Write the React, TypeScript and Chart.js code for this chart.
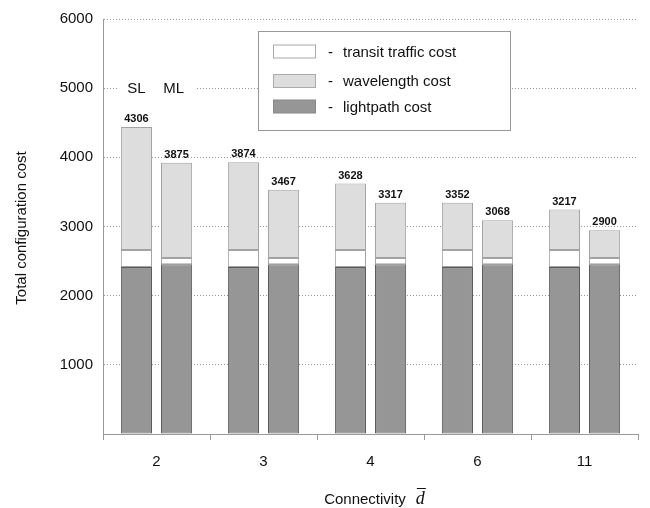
import React, { useEffect, useRef } from 'react';
import { Chart, registerables } from 'chart.js';

Chart.register(...registerables);

const categories = ['2', '3', '4', '6', '11'];
const lightpathSL = [2415, 2415, 2415, 2415, 2415];
const transitSL = [245, 245, 245, 245, 245];
const wavelengthSL = [1780, 1270, 960, 685, 585];
const lightpathML = [2455, 2455, 2455, 2455, 2455];
const transitML = [90, 90, 90, 90, 90];
const wavelengthML = [1375, 985, 800, 545, 400];
const totalLabelsSL = [4306, 3874, 3628, 3352, 3217];
const totalLabelsML = [3875, 3467, 3317, 3068, 2900];
const legendLabels = ['transit traffic cost', 'wavelength cost', 'lightpath cost'];
const stackLabels = ['SL', 'ML'];
const yTitle = 'Total configuration cost';
const xTitle = 'Connectivity';

const FONT = "'Liberation Sans', Arial, Helvetica, sans-serif";
const DARK = '#969696';
const DARK_B = '#5a5a5a';
const LIGHT = '#dddddd';
const LIGHT_B = '#a3a3a3';
const WHITE = '#ffffff';
const WHITE_B = '#a3a3a3';

const decorPlugin = {
  id: 'decor',
  beforeDatasetsDraw(chart: any) {
    const ctx = chart.ctx;
    const y = chart.scales.y;
    const yy = y.getPixelForValue(5000);
    const m0 = chart.getDatasetMeta(0).data[0];
    const m3 = chart.getDatasetMeta(3).data[0];
    ctx.save();
    ctx.fillStyle = '#fff';
    ctx.fillRect(m0.x - 19, yy - 8, m3.x - m0.x + 38, 16);
    ctx.fillStyle = '#111';
    ctx.font = `15px ${FONT}`;
    ctx.textAlign = 'center';
    ctx.textBaseline = 'middle';
    ctx.fillText(stackLabels[0], m0.x, yy + 1);
    ctx.fillText(stackLabels[1], m3.x - 3, yy + 1);
    ctx.restore();
  },
  afterDatasetsDraw(chart: any) {
    const ctx = chart.ctx;
    ctx.save();
    ctx.fillStyle = '#111';
    ctx.font = `bold 11px ${FONT}`;
    ctx.textAlign = 'center';
    ctx.textBaseline = 'middle';
    const pairs: [number, number[]][] = [
      [2, totalLabelsSL],
      [5, totalLabelsML],
    ];
    pairs.forEach(([di, labels]) => {
      const meta = chart.getDatasetMeta(di);
      meta.data.forEach((bar: any, i: number) => {
        ctx.fillText(String(labels[i]), bar.x, bar.y - 8);
      });
    });
    ctx.restore();
  },
  afterDraw(chart: any) {
    const ctx = chart.ctx;
    const ca = chart.chartArea;
    ctx.save();
    // legend
    const lx = ca.left + 155.5;
    const ly = ca.top + 12.5;
    ctx.fillStyle = '#fff';
    ctx.fillRect(lx, ly, 252, 99);
    ctx.strokeStyle = '#999';
    ctx.lineWidth = 1;
    ctx.strokeRect(lx, ly, 252, 99);
    const fills = [WHITE, LIGHT, DARK];
    const rowsY = [51.5, 81, 106.5];
    ctx.font = `15px ${FONT}`;
    ctx.textBaseline = 'middle';
    ctx.textAlign = 'left';
    legendLabels.forEach((lab, i) => {
      const cy = rowsY[i];
      ctx.fillStyle = fills[i];
      ctx.fillRect(273.5, cy - 6.5, 42, 13);
      ctx.strokeStyle = i === 2 ? '#888' : '#aaa';
      ctx.strokeRect(273.5, cy - 6.5, 42, 13);
      ctx.fillStyle = '#111';
      ctx.fillText('-', 328, cy + 1);
      ctx.fillText(lab, 343, cy + 1);
    });
    // y title
    ctx.save();
    ctx.translate(22, 228);
    ctx.rotate(-Math.PI / 2);
    ctx.textAlign = 'center';
    ctx.fillStyle = '#111';
    ctx.font = `15px ${FONT}`;
    ctx.fillText(yTitle, 0, 0);
    ctx.restore();
    // x title
    const gap = 10;
    ctx.font = `15px ${FONT}`;
    const w1 = ctx.measureText(xTitle).width;
    ctx.font = `italic 18px 'Liberation Serif', 'DejaVu Serif', serif`;
    const w2 = ctx.measureText('d').width;
    const cx = 374.5;
    const x0 = cx - (w1 + gap + w2) / 2;
    ctx.textAlign = 'left';
    ctx.textBaseline = 'alphabetic';
    ctx.fillStyle = '#111';
    ctx.font = `15px ${FONT}`;
    ctx.fillText(xTitle, x0, 504);
    ctx.font = `italic 18px 'Liberation Serif', 'DejaVu Serif', serif`;
    ctx.fillText('d', x0 + w1 + gap, 504);
    ctx.strokeStyle = '#111';
    ctx.lineWidth = 1;
    ctx.beginPath();
    ctx.moveTo(x0 + w1 + gap + 1, 488.5);
    ctx.lineTo(x0 + w1 + gap + w2 + 1, 488.5);
    ctx.stroke();
    ctx.restore();
  },
};

export default function App() {
  const ref = useRef<HTMLCanvasElement | null>(null);
  useEffect(() => {
    if (!ref.current) return;
    const mk = (label: string, data: number[], stack: string, bg: string, bc: string) => ({
      label,
      data,
      stack,
      backgroundColor: bg,
      borderColor: bc,
      borderWidth: 1,
      borderSkipped: false,
      categoryPercentage: 0.75,
      barPercentage: 0.775,
    });
    const chart = new Chart(ref.current, {
      type: 'bar',
      data: {
        labels: categories,
        datasets: [
          mk(legendLabels[2] + ' SL', lightpathSL, 'SL', DARK, DARK_B),
          mk(legendLabels[0] + ' SL', transitSL, 'SL', WHITE, WHITE_B),
          mk(legendLabels[1] + ' SL', wavelengthSL, 'SL', LIGHT, LIGHT_B),
          mk(legendLabels[2] + ' ML', lightpathML, 'ML', DARK, DARK_B),
          mk(legendLabels[0] + ' ML', transitML, 'ML', WHITE, WHITE_B),
          mk(legendLabels[1] + ' ML', wavelengthML, 'ML', LIGHT, LIGHT_B),
        ] as any,
      },
      options: {
        animation: false,
        responsive: true,
        maintainAspectRatio: false,
        layout: { padding: { top: 15, right: 12, left: 0, bottom: 0 } },
        plugins: {
          legend: { display: false },
          tooltip: { enabled: false },
        },
        scales: {
          x: {
            stacked: true,
            offset: true,
            grid: {
              offset: true,
              drawOnChartArea: true,
              color: (c: any) => (c.index === categories.length ? '#999' : 'rgba(0,0,0,0)'),
              tickColor: '#999',
              tickLength: 6,
              lineWidth: 1,
            },
            border: { display: true, color: '#999', dash: [1, 2] },
            ticks: {
              font: { family: FONT, size: 15 },
              color: '#111',
              padding: 13,
            },
            afterFit: (s: any) => {
              s.height = 74;
            },
          },
          y: {
            stacked: true,
            min: 0,
            max: 6000,
            grid: { color: '#999', drawTicks: false, lineWidth: 1 },
            border: { display: true, color: '#999', dash: [1, 2] },
            ticks: {
              stepSize: 1000,
              font: { family: FONT, size: 15 },
              color: '#111',
              padding: 10,
              callback: (v: any) => (v === 0 ? '' : String(v)),
            },
            afterFit: (s: any) => {
              s.width = 103;
            },
          },
        },
      },
      plugins: [decorPlugin],
    } as any);
    return () => chart.destroy();
  }, []);
  return (
    <div style={{ position: 'fixed', left: 0, top: 0, width: 650, height: 508, background: '#fff' }}>
      <canvas ref={ref} />
    </div>
  );
}
